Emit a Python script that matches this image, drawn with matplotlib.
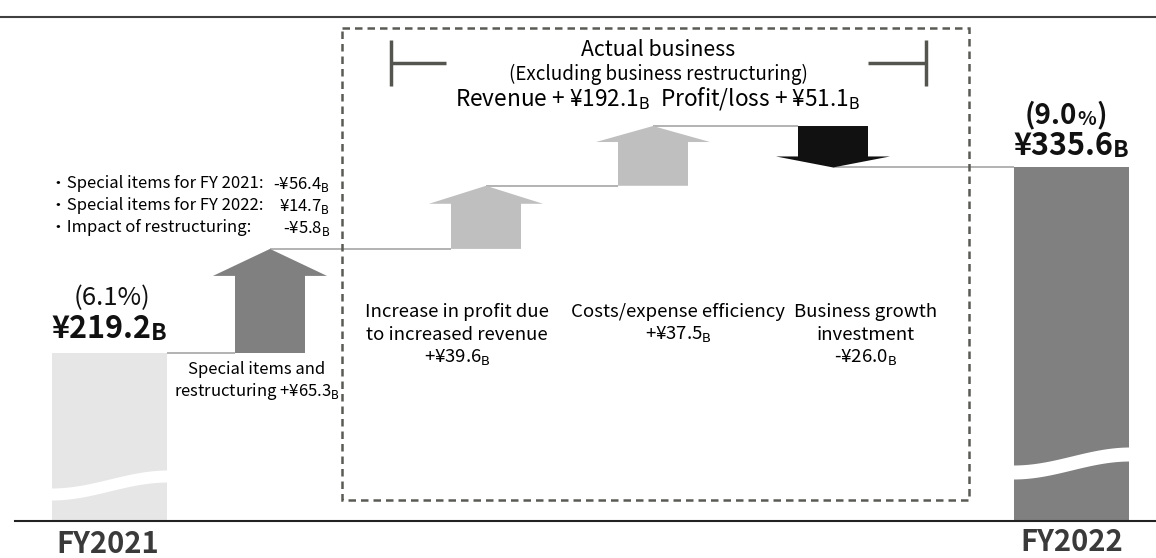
import matplotlib
matplotlib.use('Agg')
import matplotlib.pyplot as plt
import numpy as np
from matplotlib.patches import Polygon, Rectangle

plt.rcParams['font.family'] = ['Noto Sans CJK JP', 'DejaVu Sans']

# --- data (¥ billions) ---
start_label = 'FY2021'
end_label = 'FY2022'
start_profit = 219.2
end_profit = 335.6
start_margin = '6.1'
end_margin = '9.0'
step_names = ['Special items and\nrestructuring',
              'Increase in profit due\nto increased revenue',
              'Costs/expense efficiency',
              'Business growth\ninvestment']
step_values = [65.3, 39.6, 37.5, -26.0]
special_names = ['Special items for FY 2021:',
                 'Special items for FY 2022:',
                 'Impact of restructuring:']
special_values = [-56.4, 14.7, -5.8]
actual_revenue = 192.1
actual_profit = 51.1

# --- layout (pixels) ---
W, H = 1156, 558
PX_PER = 1.594       # pixels per ¥1B
Y_START = 353        # pixel row of the FY2021 bar top
Y_BASE = 521         # baseline row
SUB_B = r'$_\mathrm{B}$'

fig = plt.figure(figsize=(W / 100, H / 100), dpi=100)
# value axes for bars / arrows
ax = fig.add_axes([0, 0, 1, 1])
ax.set_xlim(0, W)
ax.set_ylim(start_profit - (H - Y_START) / PX_PER, start_profit + Y_START / PX_PER)
ax.axis('off')
# pixel axes for text and decoration
px = fig.add_axes([0, 0, 1, 1])
px.set_xlim(0, W)
px.set_ylim(H, 0)
px.axis('off')
px.patch.set_alpha(0)

base = start_profit - (Y_BASE - Y_START) / PX_PER
bar_w = 115
ax.bar([109.5], [start_profit - base], bottom=base, width=bar_w, color='#e6e6e6', zorder=2)
ax.bar([1071.5], [end_profit - base], bottom=base, width=bar_w, color='#808080', zorder=2)

# waterfall arrows
levels = np.concatenate([[start_profit], start_profit + np.cumsum(step_values)])
arrow_x = [270, 486, 653, 833]
head_px = [27, 18, 16, 11]
arrow_col = ['#808080', '#bfbfbf', '#bfbfbf', '#111111']
bw, hw = 35, 57
for i, c in enumerate(arrow_x):
    v0, v1 = levels[i], levels[i + 1]
    sgn = np.sign(v1 - v0)
    vb = v1 - sgn * head_px[i] / PX_PER
    poly = [(c - bw, v0), (c + bw, v0), (c + bw, vb), (c + hw, vb),
            (c, v1), (c - hw, vb), (c - bw, vb)]
    ax.add_patch(Polygon(poly, closed=True, fc=arrow_col[i], ec='none', zorder=3))

# connector lines
starts = [109.5 + bar_w / 2] + arrow_x
ends = [c - bw for c in arrow_x] + [1071.5 - bar_w / 2]
ax.hlines(levels, starts, ends, colors='#a6a6a6', lw=1.2, zorder=1)

# wave breaks on bars
def wave(x0, x1, y_left, y_right, thick):
    t = np.linspace(0, 1, 80)
    xx = x0 - 1 + t * (x1 - x0 + 2)
    yc = y_left + (y_right - y_left) * (1 - np.cos(np.pi * t)) / 2
    px.fill_between(xx, yc, yc + thick, color='white', lw=0, zorder=4)

wave(52, 167, 488, 470, 12)
wave(1014, 1129, 465, 447, 14)

# frame lines
px.plot([0, W], [17, 17], color='#404040', lw=1.5)
px.plot([15, W], [Y_BASE, Y_BASE], color='#222222', lw=1.5, zorder=5)

# dashed "actual business" box
px.add_patch(Rectangle((342, 28), 969 - 342, 500 - 28, fill=False, ec='#5a5a55',
                       lw=1.8, ls=(0, (3, 2)), zorder=5))
br = dict(color='#555550', lw=2.5, solid_capstyle='butt')
px.plot([391, 391], [40, 86], **br)
px.plot([391, 446], [63, 63], **br)
px.plot([926, 926], [40, 86], **br)
px.plot([868, 926], [63, 63], **br)
px.text(658, 50, 'Actual business', ha='center', va='center', fontsize=15.3)
px.text(658, 74, '(Excluding business restructuring)', ha='center', va='center', fontsize=13.5)
px.text(658, 99, f'Revenue + ¥{actual_revenue:.1f}{SUB_B}  Profit/loss + ¥{actual_profit:.1f}{SUB_B}',
        ha='center', va='center', fontsize=16.3)


def money(v, plus=False):
    sign = '-' if v < 0 else ('+' if plus else '')
    return f'{sign}¥{abs(v):.1f}{SUB_B}'


# special items list
for i, (name, v) in enumerate(zip(special_names, special_values)):
    y = 184 + i * 22
    px.text(50, y, '・' + name, ha='left', va='center', fontsize=12)
    px.text(330, y, money(v), ha='right', va='center', fontsize=12)

# step labels
label_x = [257, 457, 678, 866]
for i, (name, v) in enumerate(zip(step_names, step_values)):
    lines = name.split('\n')
    if i == 0:
        lines[-1] += ' ' + money(v, plus=True)
        y0, dy, fs = 370, 22, 12
    else:
        lines.append(money(v, plus=True))
        y0, dy, fs = 312, 23, 13.4
    for k, ln in enumerate(lines):
        px.text(label_x[i], y0 + k * dy, ln, ha='center', va='center', fontsize=fs)


def big_value(x, y, v, size):
    t = px.text(x, y, f'¥{v:.1f}', ha='center', va='bottom', fontsize=size,
                fontweight='bold', color='#111111')
    px.annotate('B', xy=(1, 0), xycoords=t, ha='left', va='bottom',
                fontsize=size * 0.75, fontweight='bold', color='#111111')


# FY2021 totals
px.text(112, 298, f'({start_margin}%)', ha='center', va='center', fontsize=18.5, color='#111111')
big_value(101, 345, start_profit, 22)

# FY2022 totals
t1 = px.text(1025, 129, f'({end_margin}', ha='left', va='bottom', fontsize=20,
             fontweight='bold', color='#111111')
t2 = px.annotate('%', xy=(1, 0), xycoords=t1, ha='left', va='bottom', fontsize=14,
                 fontweight='bold', color='#111111')
px.annotate(')', xy=(1, 0), xycoords=(t2, t1), ha='left', va='bottom', fontsize=20,
            fontweight='bold', color='#111111')
big_value(1063, 162, end_profit, 22)

px.text(108, 544, start_label, ha='center', va='center', fontsize=21,
        fontweight='bold', color='#3a3a3a')
px.text(1072, 542, end_label, ha='center', va='center', fontsize=21,
        fontweight='bold', color='#3a3a3a')

fig.savefig('out.png', dpi=100)
